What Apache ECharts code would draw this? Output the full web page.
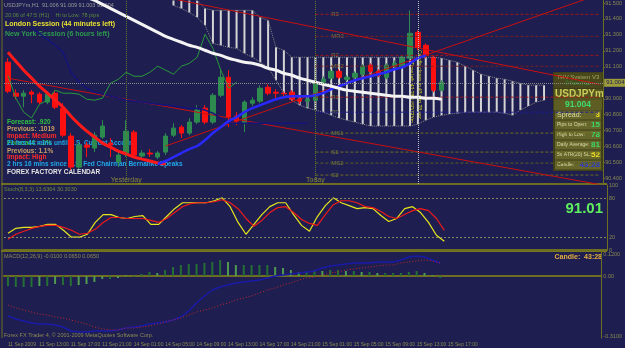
<!DOCTYPE html>
<html>
<head>
<meta charset="utf-8">
<script src="https://cdn.jsdelivr.net/npm/echarts@6/dist/echarts.min.js"></script>
<style>
html,body{margin:0;padding:0;background:#1e1e50;}
#box{width:625px;height:348px;}
</style>
</head>
<body>
<div id="box"></div>
<script>
// hourly bars, USDJPYm H1
const times = [
  '11 Sep 09:00','11 Sep 10:00','11 Sep 11:00','11 Sep 12:00','11 Sep 13:00','11 Sep 14:00','11 Sep 15:00','11 Sep 16:00',
  '11 Sep 17:00','11 Sep 18:00','11 Sep 19:00','11 Sep 20:00','11 Sep 21:00','11 Sep 22:00','11 Sep 23:00',
  '14 Sep 00:00','14 Sep 01:00','14 Sep 02:00','14 Sep 03:00','14 Sep 04:00','14 Sep 05:00','14 Sep 06:00','14 Sep 07:00',
  '14 Sep 08:00','14 Sep 09:00','14 Sep 10:00','14 Sep 11:00','14 Sep 12:00','14 Sep 13:00','14 Sep 14:00','14 Sep 15:00',
  '14 Sep 16:00','14 Sep 17:00','14 Sep 18:00','14 Sep 19:00','14 Sep 20:00','14 Sep 21:00','14 Sep 22:00','14 Sep 23:00',
  '15 Sep 00:00','15 Sep 01:00','15 Sep 02:00','15 Sep 03:00','15 Sep 04:00','15 Sep 05:00','15 Sep 06:00','15 Sep 07:00',
  '15 Sep 08:00','15 Sep 09:00','15 Sep 10:00','15 Sep 11:00','15 Sep 12:00','15 Sep 13:00','15 Sep 14:00','15 Sep 15:00',
  '15 Sep 16:00','15 Sep 17:00','15 Sep 18:00','15 Sep 19:00','15 Sep 20:00','15 Sep 21:00','15 Sep 22:00','15 Sep 23:00',
  '16 Sep 00:00','16 Sep 01:00','16 Sep 02:00','16 Sep 03:00','16 Sep 04:00','16 Sep 05:00','16 Sep 06:00','16 Sep 07:00',
  '16 Sep 08:00','16 Sep 09:00','16 Sep 10:00','16 Sep 11:00','16 Sep 12:00'
];
const lastLabelled = 56;

// open, close, low, high
const ohlc = [
  [91.129,90.947,90.935,91.154],[90.935,90.916,90.897,90.960],[90.916,90.935,90.847,90.954],[90.941,90.929,90.872,90.954],
  [90.929,90.879,90.866,90.941],[90.879,90.929,90.866,90.941],[90.935,90.847,90.835,90.954],[90.841,90.672,90.660,90.872],
  [90.666,90.472,90.454,90.685],[90.472,90.610,90.460,90.629],[90.610,90.597,90.535,90.629],[90.591,90.672,90.566,90.691],
  [90.660,90.729,90.647,90.766],[90.622,90.610,90.535,90.654],[90.504,90.547,90.472,90.566],[90.560,90.697,90.535,90.766],
  [90.691,90.547,90.529,90.704],[90.541,90.560,90.529,90.579],[90.560,90.554,90.535,90.585],[90.535,90.560,90.522,90.572],
  [90.566,90.666,90.547,90.685],[90.672,90.716,90.660,90.747],[90.722,90.685,90.654,90.735],[90.685,90.754,90.672,90.779],
  [90.754,90.829,90.741,90.860],[90.841,90.754,90.741,90.860],[90.754,90.922,90.741,90.935],[90.922,91.035,90.910,91.079],
  [91.035,90.785,90.722,91.079],[90.791,90.760,90.735,90.816],[90.747,90.879,90.691,90.891],[90.872,90.891,90.854,90.910],
  [90.885,90.966,90.872,90.985],[90.972,90.935,90.922,90.991],[90.941,90.935,90.891,90.960],[90.935,90.932,90.916,90.947],
  [90.941,90.897,90.885,90.954],[90.897,90.885,90.866,90.910],[90.885,90.897,90.847,90.910],[90.891,91.004,90.879,91.016],
  [91.004,91.022,90.991,91.041],[91.029,91.072,91.016,91.085],[91.072,91.035,91.022,91.085],[91.022,91.035,91.010,91.047],
  [91.035,91.060,91.022,91.072],[91.054,91.104,91.041,91.116],[91.110,91.072,91.060,91.122],[91.072,91.047,91.035,91.085],
  [91.035,91.110,91.022,91.122],[91.104,91.122,91.091,91.141],[91.097,91.160,91.085,91.172],[91.154,91.310,91.141,91.454],
  [91.316,91.222,91.204,91.329],[91.235,91.172,91.154,91.247],[91.160,90.954,90.941,91.172],[90.954,91.004,90.947,91.016]
];

// slow moving average (white), from bar 0
const slowMA = [91.722,91.704,91.685,91.666,91.647,91.629,91.610,91.591,91.572,91.554,91.535,91.516,91.491,91.466,91.441,91.416,
  91.391,91.366,91.341,91.316,91.291,91.272,91.254,91.235,91.222,91.204,91.185,91.172,91.154,91.141,91.129,91.122,91.110,91.091,
  91.079,91.060,91.047,91.029,91.016,91.004,90.991,90.979,90.966,90.954,90.947,90.941,90.935,90.929,90.922,90.916,90.916,90.910,
  90.910,90.904,90.904,90.897];
// fast moving average, falling part (red) from bar 0, rising part (blue) from bar 19
const fastDown = [91.191,91.135,91.079,91.029,90.979,90.935,90.891,90.847,90.791,90.741,90.697,90.660,90.622,90.597,90.572,
  90.554,90.535,90.522,90.510,90.497,90.491];
const fastUp = [90.491,90.510,90.535,90.560,90.585,90.604,90.641,90.685,90.722,90.760,90.785,90.816,90.841,90.860,90.879,90.897,
  90.910,90.916,90.916,90.916,90.922,90.935,90.960,90.979,90.997,91.016,91.029,91.041,91.054,91.066,91.085,91.097,91.122,91.154,91.172];
const fastUpStart = 19;
// lagging span (green), from bar 0
const chikou = [91.047,90.904,90.816,90.779,90.866,90.891,90.954,90.935,90.935,90.929,90.897,90.891,90.904,90.997,91.022,91.066,
  91.041,91.041,91.066,91.104,91.079,91.054,91.104,91.122,91.160,91.304,91.216,91.079,90.966,91.004];
// base line (dark blue), from bar 3
const kijun = [91.347,91.310,91.272,91.235,91.191,91.066,91.004,90.966,90.941,90.929,90.916,90.904,90.891,90.885,90.879,90.872,
  90.866,90.860,90.854,90.847,90.841,90.841,90.829,90.810,90.779,90.747,90.747,90.747,90.747,90.747,90.747,90.747,90.747,90.747,90.747,90.747];
const kijunStart = 3;
// cloud spans, from bar 21
const spanA = [91.547,91.547,91.547,91.516,91.466,91.454,91.454,91.454,91.454,91.454,91.454,91.410,91.391,91.222,91.204,91.160,
  91.160,91.160,91.160,91.160,91.160,91.160,91.160,91.160,91.160,91.160,91.160,91.160,91.160,91.160,91.160,91.160,91.160,91.160,
  91.154,91.141,91.129,91.104,91.079,91.054,91.041,91.029,91.022,91.010,90.997,90.985,90.985,90.985];
const spanB = [91.485,91.466,91.441,91.410,91.360,91.247,91.235,91.222,91.216,91.185,91.160,91.129,91.097,91.016,90.935,90.891,
  90.860,90.841,90.829,90.816,90.797,90.779,90.766,90.754,90.741,90.729,90.729,90.729,90.729,90.729,90.729,90.741,90.766,90.785,
  90.797,90.804,90.810,90.816,90.816,90.816,90.816,90.816,90.810,90.797,90.829,90.854,90.879,90.891];
const cloudStart = 21;

// daily pivots, drawn from "Today"
const pivotNames = ['R3','MR3','R2','MR2','R1','PP','MS1','S1','MS2','S2'];
const pivotLevels = [91.429,91.291,91.172,91.104,90.910,90.816,90.685,90.566,90.497,90.422];
const pivotColors = ['#a01818','#7a2020','#a01818','#7a2020','#a01818','#1c1c9a','#6e6e22','#6e6e22','#5e5e20','#6e6e22'];
// trend lines: [bar, price, bar, price]
const trendLines = [[20,91.535,75,90.991],[20,90.604,75,91.554],[0,91.029,75,90.363]];
const currentPrice = 91.004;

// stochastic
const stochK = [25.8,33.3,34.8,34.8,36.4,39.4,39.4,30.3,19.7,19.7,24.2,42.4,54.5,54.5,50.0,48.5,51.5,53.0,39.4,39.4,51.5,63.6,
  72.7,72.7,72.7,72.7,75.8,80.3,66.7,42.4,24.2,39.4,54.5,66.7,72.7,72.7,54.5,37.9,28.8,51.5,68.2,80.3,72.7,68.2,63.6,65.2,63.6,
  53.0,43.9,48.5,63.6,66.7,57.6,42.4,22.7,13.6];
const stochD = [16.7,24.2,28.8,33.3,36.4,37.9,37.9,34.8,30.3,24.2,25.8,31.8,42.4,50.0,50.0,48.5,48.5,48.5,45.5,42.4,48.5,57.6,
  66.7,71.2,72.7,72.7,74.2,77.3,72.7,63.6,48.5,36.4,45.5,57.6,65.2,66.7,57.6,47.0,40.9,37.9,54.5,69.7,75.8,75.8,72.7,66.7,65.2,
  59.1,51.5,48.5,54.5,60.6,63.6,60.6,48.5,30.3];

// MACD window
const macdHist = [-0.050,-0.055,-0.055,-0.055,-0.050,-0.050,-0.040,-0.045,-0.050,-0.045,-0.040,-0.030,-0.015,-0.015,-0.010,0.005,
  -0.005,0.010,0.020,0.015,0.030,0.045,0.055,0.060,0.060,0.065,0.070,0.080,0.070,0.055,0.055,0.055,0.055,0.055,0.045,0.040,0.030,
  0.020,0.020,0.030,0.025,0.030,0.030,0.025,0.025,0.020,0.020,0.015,0.015,0.015,0.015,0.020,0.025,0.015,0.005,-0.010];
const macdMain = [-0.200,-0.215,-0.225,-0.235,-0.240,-0.240,-0.245,-0.255,-0.275,-0.280,-0.280,-0.275,-0.275,-0.275,-0.270,-0.260,
  -0.255,-0.250,-0.240,-0.235,-0.230,-0.220,-0.205,-0.175,-0.135,-0.100,-0.070,-0.055,-0.045,-0.035,-0.030,-0.025,-0.020,-0.010,
  0.000,0.005,0.010,0.015,0.020,0.025,0.040,0.050,0.055,0.060,0.065,0.065,0.065,0.070,0.070,0.070,0.080,0.095,0.100,0.095,0.080,0.065];
const macdSignal = [-0.145,-0.160,-0.170,-0.180,-0.190,-0.195,-0.205,-0.210,-0.220,-0.230,-0.240,-0.255,-0.265,-0.270,-0.270,-0.260,
  -0.260,-0.255,-0.250,-0.240,-0.230,-0.220,-0.210,-0.195,-0.180,-0.170,-0.160,-0.145,-0.135,-0.120,-0.110,-0.100,-0.085,-0.070,
  -0.060,-0.045,-0.035,-0.020,-0.010,-0.005,0.005,0.015,0.020,0.030,0.035,0.040,0.045,0.050,0.055,0.055,0.065,0.070,0.075,0.080,0.075,0.065];

const F = 'Liberation Sans, Arial, sans-serif';
const olive = '#6e6e22';
const axisText = '#8a8a52';

function pad(start, arr) {
  const out = [];
  for (let i = 0; i < start; i++) out.push(null);
  return out.concat(arr);
}

const myChart = echarts.init(document.getElementById('box'));

const cloudData = spanA.map((a, k) => [cloudStart + k, a, spanB[k]]);

const pivotSeries = pivotLevels.map((v, k) => ({
  type: 'line', xAxisIndex: 0, yAxisIndex: 0, symbol: 'none', silent: true,
  lineStyle: {color: pivotColors[k], width: 1, type: [3, 2]},
  label: {show: false},
  data: [[39, v], [75, v]]
}));
const pivotLabels = {
  type: 'scatter', xAxisIndex: 0, yAxisIndex: 0, symbolSize: 0, silent: true,
  label: {show: true, position: 'right', distance: 0, formatter: p => p.name,
    color: '#8e8e3e', fontSize: 6, fontFamily: F},
  data: pivotLevels.map((v, k) => ({name: pivotNames[k], value: [41, v]}))
};
const trendSeries = trendLines.map(t => ({
  type: 'line', xAxisIndex: 0, yAxisIndex: 0, symbol: 'none', silent: true,
  lineStyle: {color: '#c81010', width: 1},
  data: [[t[0], t[1]], [t[2], t[3]]]
}));

const option = {
  backgroundColor: '#1e1e50',
  animation: false,
  grid: [
    {left: 4, right: 18, top: 0, height: 184},
    {left: 4, right: 18, top: 185, height: 65},
    {left: 4, right: 18, top: 252, height: 86}
  ],
  xAxis: [0, 1, 2].map(g => ({
    type: 'category', gridIndex: g, data: times, boundaryGap: true,
    axisLine: {show: true, lineStyle: {color: olive, width: 2}},
    axisTick: {show: false},
    splitLine: {show: false},
    axisLabel: g === 2 ? {
      show: true, interval: 3, align: 'left', margin: 4, fontSize: 5, color: axisText, fontFamily: F,
      formatter: (v, i) => i === 0 ? '11 Sep 2009' : (i > lastLabelled ? '' : v)
    } : {show: false}
  })),
  yAxis: [
    {
      type: 'value', gridIndex: 0, position: 'right', min: 90.366, max: 91.516, splitNumber: 12,
      axisLine: {show: true, lineStyle: {color: olive}},
      axisTick: {show: true, length: 2, lineStyle: {color: olive}},
      splitLine: {show: false},
      axisLabel: {fontSize: 5.5, color: axisText, margin: 2, fontFamily: F,
        showMinLabel: false, showMaxLabel: false, formatter: v => v.toFixed(3)}
    },
    {
      type: 'value', gridIndex: 1, position: 'right', min: 0, max: 100, interval: 20,
      axisLine: {show: true, lineStyle: {color: olive}},
      axisTick: {show: false}, splitLine: {show: false},
      axisLabel: {fontSize: 5.5, color: axisText, margin: 2, fontFamily: F,
        formatter: v => (v === 0 || v === 20 || v === 80 || v === 100) ? String(v) : ''}
    },
    {
      type: 'value', gridIndex: 2, position: 'right', min: -0.31, max: 0.12, interval: 0.01,
      axisLine: {show: true, lineStyle: {color: olive}},
      axisTick: {show: false}, splitLine: {show: false},
      axisLabel: {fontSize: 5.5, color: axisText, margin: 2, fontFamily: F,
        formatter: v => Math.abs(v) < 1e-9 ? '0.00' : (Math.abs(v - 0.11) < 1e-9 ? '0.1200' : (Math.abs(v + 0.30) < 1e-9 ? '-0.3100' : ''))}
    }
  ],
  series: [
    // cloud hatching
    {
      type: 'custom', xAxisIndex: 0, yAxisIndex: 0, silent: true, clip: true,
      encode: {x: 0, y: [1, 2]},
      renderItem: (params, api) => {
        const a = api.coord([api.value(0), api.value(1)]);
        const b = api.coord([api.value(0), api.value(2)]);
        return {type: 'line', shape: {x1: a[0], y1: a[1], x2: b[0], y2: b[1]},
          style: {stroke: '#d4d4d4', lineWidth: 2}};
      },
      data: cloudData
    },
    {type: 'line', xAxisIndex: 0, yAxisIndex: 0, symbol: 'none', silent: true,
      lineStyle: {color: '#8a8a8a', width: 1, type: 'dotted'}, data: pad(cloudStart, spanA)},
    {type: 'line', xAxisIndex: 0, yAxisIndex: 0, symbol: 'none', silent: true,
      lineStyle: {color: '#8a8a8a', width: 1, type: 'dotted'}, data: pad(cloudStart, spanB)},
    ...pivotSeries,
    ...trendSeries,
    {type: 'line', xAxisIndex: 0, yAxisIndex: 0, symbol: 'none', silent: true,
      lineStyle: {color: '#14147a', width: 1.5}, data: pad(kijunStart, kijun)},
    {type: 'line', xAxisIndex: 0, yAxisIndex: 0, symbol: 'none', silent: true,
      lineStyle: {color: '#2a9a3a', width: 1}, data: chikou},
    {type: 'line', xAxisIndex: 0, yAxisIndex: 0, symbol: 'none', silent: true, smooth: 0.3,
      lineStyle: {color: '#ff1a1a', width: 3}, data: fastDown},
    {type: 'line', xAxisIndex: 0, yAxisIndex: 0, symbol: 'none', silent: true, smooth: 0.3,
      lineStyle: {color: '#2828ff', width: 2.5}, data: pad(fastUpStart, fastUp)},
    {type: 'line', xAxisIndex: 0, yAxisIndex: 0, symbol: 'none', silent: true, smooth: 0.3,
      lineStyle: {color: '#f4f4f4', width: 3}, data: slowMA},
    {
      type: 'candlestick', xAxisIndex: 0, yAxisIndex: 0, barWidth: 5, silent: true,
      itemStyle: {color: '#2e8b50', color0: '#ff1010', borderColor: '#2e8b50', borderColor0: '#ff1010', borderWidth: 1},
      data: ohlc,
      markLine: {
        symbol: ['none', 'none'], silent: true,
        data: [
          {yAxis: currentPrice, lineStyle: {color: '#8c8c8c', type: 'dotted', width: 1},
            label: {show: true, position: 'end', distance: 1, formatter: currentPrice.toFixed(3),
              fontSize: 6, color: '#1e1e50', backgroundColor: '#9c9c3c', padding: [1, 2], fontFamily: F}},
          {xAxis: times[15], lineStyle: {color: '#5e7a2a', type: 'dotted', width: 1}, label: {show: false}},
          {xAxis: times[39], lineStyle: {color: '#5e7a2a', type: 'dotted', width: 1}, label: {show: false}},
          {xAxis: times[52], lineStyle: {color: '#bdbdbd', type: 'dotted', width: 1}, label: {show: false}}
        ]
      }
    },
    pivotLabels,
    {
      type: 'scatter', xAxisIndex: 0, yAxisIndex: 0, symbolSize: 0, silent: true,
      label: {show: true, position: 'inside', formatter: p => p.name, color: '#a0a032', fontSize: 7, fontFamily: F},
      data: [{name: 'Yesterday', value: [15, 90.388]}, {name: 'Today', value: [39, 90.388]}]
    },
    // stochastic
    {type: 'line', xAxisIndex: 1, yAxisIndex: 1, symbol: 'none', silent: true,
      lineStyle: {color: '#e6e61e', width: 1.2}, data: stochK,
      markLine: {symbol: ['none', 'none'], silent: true, label: {show: false},
        lineStyle: {color: '#8a8a60', type: [2, 2], width: 1},
        data: [{yAxis: 80}, {yAxis: 20}]}},
    {type: 'line', xAxisIndex: 1, yAxisIndex: 1, symbol: 'none', silent: true,
      lineStyle: {color: '#ee1a1a', width: 1.2}, data: stochD},
    // MACD
    {type: 'bar', xAxisIndex: 2, yAxisIndex: 2, barWidth: 2, silent: true,
      data: macdHist.map((v, i) => ({value: v,
        itemStyle: {color: (i > 0 && Math.abs(v) < Math.abs(macdHist[i - 1])) ? '#4f9a4f' : '#256f35'}}))},
    {type: 'line', xAxisIndex: 2, yAxisIndex: 2, symbol: 'none', silent: true,
      lineStyle: {color: '#1a1aa8', width: 1.5}, data: macdMain},
    {type: 'line', xAxisIndex: 2, yAxisIndex: 2, symbol: 'none', silent: true,
      lineStyle: {color: '#c02828', width: 1, type: [1, 2]}, data: macdSignal}
  ],
  graphic: [
    // frames
    {type: 'rect', silent: true, shape: {x: 1, y: 183, width: 606, height: 2}, style: {fill: '#76761e'}},
    {type: 'rect', silent: true, shape: {x: 1, y: 250, width: 606, height: 2}, style: {fill: '#76761e'}},
    {type: 'line', silent: true, shape: {x1: 2, y1: 0, x2: 2, y2: 338}, style: {stroke: olive, lineWidth: 1}},
    // top-left header
    {type: 'text', left: 4, top: 2, silent: true, style: {text: 'USDJPYm,H1  91.006 91.009 91.003 91.004', fill: '#9a9a9a', font: '5.5px ' + F}},
    {type: 'text', left: 5, top: 12, silent: true, style: {text: '20:06 of 47:5 (H1)    Hi to Low: 78 pips', fill: '#5e8a3e', font: '5.5px ' + F}},
    {type: 'text', left: 5, top: 21, silent: true, style: {text: 'London Session (44 minutes left)', fill: '#e8e030', font: 'bold 7px ' + F}},
    {type: 'text', left: 5, top: 31, silent: true, style: {text: 'New York Session (6 hours left)', fill: '#2e9a4e', font: 'bold 7px ' + F}},
    // calendar block
    {type: 'text', left: 7, top: 119, silent: true, style: {text: 'Forecast: .920', fill: '#30c040', font: 'bold 6.5px ' + F}},
    {type: 'text', left: 7, top: 126, silent: true, style: {text: 'Previous: .1019', fill: '#c8a064', font: 'bold 6.5px ' + F}},
    {type: 'text', left: 7, top: 133, silent: true, style: {text: 'Impact: Medium', fill: '#ff2a2a', font: 'bold 6.5px ' + F}},
    {type: 'text', left: 7, top: 140, silent: true, style: {text: 'Forecast: -.1%', fill: '#30c040', font: 'bold 6.5px ' + F}},
    {type: 'text', left: 7, top: 140, silent: true, style: {text: '21 hrs 44 mins until U.S. Current Account', fill: '#22a8e8', font: 'bold 6.5px ' + F}},
    {type: 'text', left: 7, top: 148, silent: true, style: {text: 'Previous: 1.1%', fill: '#c8a064', font: 'bold 6.5px ' + F}},
    {type: 'text', left: 7, top: 154, silent: true, style: {text: 'Impact: High', fill: '#ff2a2a', font: 'bold 6.5px ' + F}},
    {type: 'text', left: 7, top: 161, silent: true, style: {text: '2 hrs 16 mins since U.S. Fed Chairman Bernanke Speaks', fill: '#22a8e8', font: 'bold 6.5px ' + F}},
    {type: 'text', left: 7, top: 169, silent: true, style: {text: 'FOREX FACTORY CALENDAR', fill: '#e4e4e4', font: 'bold 6.5px ' + F}},
    // vertical countdown text by the last bars
    {type: 'text', x: 414, y: 62, rotation: -Math.PI / 2, silent: true, style: {text: 'Time left: 43:28  USDJPYm', fill: '#d8d820', font: '5px ' + F}},
    {type: 'text', x: 422, y: 50, rotation: -Math.PI / 2, silent: true, style: {text: 'Candle closes in 43 min 28 sec', fill: '#d8d820', font: '5px ' + F}},
    // info panel
    {type: 'rect', silent: true, shape: {x: 553, y: 72, width: 50, height: 99}, style: {fill: '#3e3e18'}},
    {type: 'rect', silent: true, shape: {x: 554, y: 73, width: 48, height: 15}, style: {fill: '#48481c'}},
    {type: 'text', x: 578, y: 77, silent: true, style: {text: 'THV System V3', fill: '#a8a860', font: '6px ' + F, align: 'center', verticalAlign: 'middle'}},
    {type: 'text', x: 578, y: 84, silent: true, style: {text: '© ForexTSD', fill: '#3a9a3a', font: '4.5px ' + F, align: 'center', verticalAlign: 'middle'}},
    {type: 'rect', silent: true, shape: {x: 554, y: 89, width: 48, height: 11}, style: {fill: '#55551f'}},
    {type: 'text', x: 555, y: 94.5, silent: true, style: {text: 'USDJPYm', fill: '#cccc5a', font: 'bold 10px ' + F, verticalAlign: 'middle'}},
    {type: 'rect', silent: true, shape: {x: 554, y: 100, width: 48, height: 10}, style: {fill: '#5e5e24'}},
    {type: 'text', x: 578, y: 105, silent: true, style: {text: '91.004', fill: '#3edc70', font: 'bold 8.5px ' + F, align: 'center', verticalAlign: 'middle'}},
    ...[['Spread:', '3', '#f0e020', 7], ['Pips to Open:', '15', '#38d868', 5], ['High to Low:', '78', '#38d868', 5],
        ['Daily Average:', '81', '#38d868', 5], ['5x ATR(20) SL:', '52', '#f0e020', 5], ['Candle:', '43:28', '#2a3ad0', 5]]
      .flatMap((r, k) => [
        {type: 'rect', silent: true, shape: {x: 555, y: 110.5 + k * 10, width: 46, height: 9}, style: {fill: '#66662a'}},
        {type: 'text', x: 557, y: 115 + k * 10, silent: true, style: {text: r[0], fill: '#dcdca8', font: r[3] + 'px ' + F, verticalAlign: 'middle'}},
        {type: 'text', x: 600, y: 115 + k * 10, silent: true, style: {text: r[1], fill: r[2], font: 'bold 8px ' + F, align: 'right', verticalAlign: 'middle'}}
      ]),
    // stochastic window
    {type: 'text', left: 4, top: 186, silent: true, style: {text: 'Stoch(8,3,3) 13.6364 30.3030', fill: '#6e8a3e', font: '5.5px ' + F}},
    {type: 'text', x: 603, y: 209, silent: true, style: {text: '91.01', fill: '#5ef05e', font: 'bold 15px ' + F, align: 'right', verticalAlign: 'middle'}},
    // MACD window
    {type: 'text', left: 4, top: 253, silent: true, style: {text: 'MACD(12,26,9) -0.0100 0.0650 0.0650', fill: '#8a8a52', font: '5.5px ' + F}},
    {type: 'text', x: 602, y: 257, silent: true, style: {text: 'Candle:  43:28', fill: '#e8b040', font: 'bold 7px ' + F, align: 'right', verticalAlign: 'middle'}},
    {type: 'text', left: 4, top: 332, silent: true, style: {text: 'Forex FX Trader 4, © 2001-2009 MetaQuotes Software Corp.', fill: '#8a8a52', font: '5.5px ' + F}}
  ]
};
myChart.setOption(option);
window.onresize = function () {
  myChart.resize();
};
</script>
</body>
</html>
